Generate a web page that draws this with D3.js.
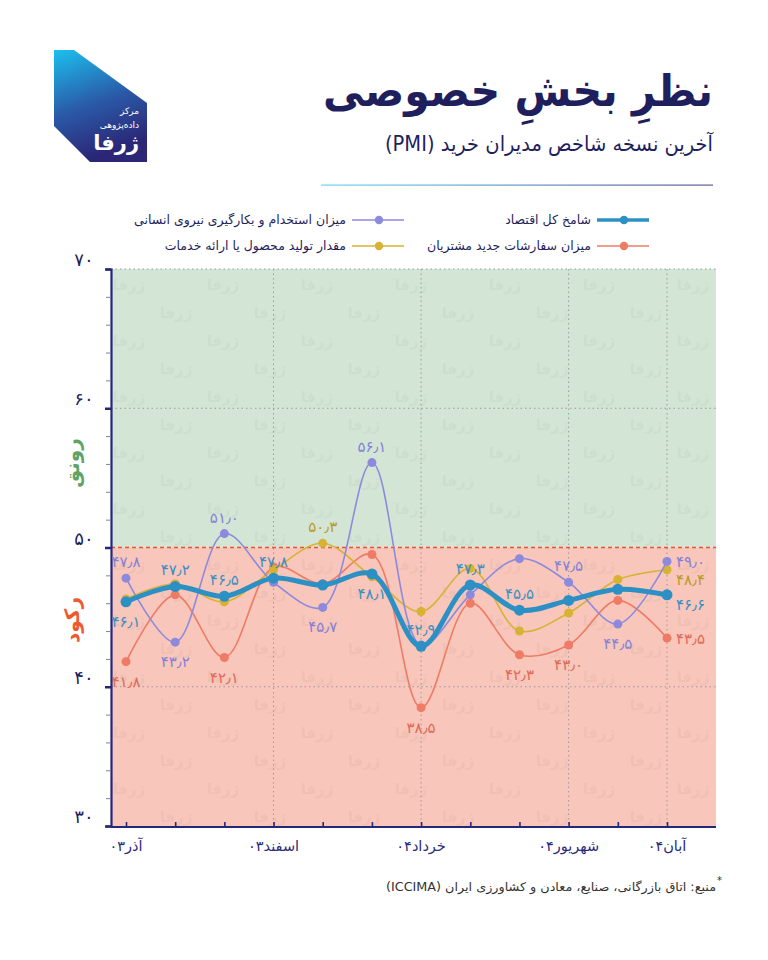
<!DOCTYPE html>
<html>
<head>
<meta charset="utf-8">
<script src="https://cdn.jsdelivr.net/npm/d3@7/dist/d3.min.js"></script>
<style>
  html, body { margin: 0; padding: 0; background: #ffffff; }
  svg { display: block; font-family: "DejaVu Sans", sans-serif; }
</style>
</head>
<body>
<div id="chart"></div>
<script>
// ---------------------------------- DATA
var months = ["آذر۰۳", "دی۰۳", "بهمن۰۳", "اسفند۰۳", "فروردین۰۴", "اردیبهشت۰۴",
              "خرداد۰۴", "تیر۰۴", "مرداد۰۴", "شهریور۰۴", "مهر۰۴", "آبان۰۴"];
var tickMonths = ["آذر۰۳", "اسفند۰۳", "خرداد۰۴", "شهریور۰۴", "آبان۰۴"];

var mainIndex   = [46.1, 47.2, 46.5, 47.8, 47.3, 48.1, 42.9, 47.3, 45.5, 46.2, 47.0, 46.6];
var employment  = [47.8, 43.2, 51.0, 47.5, 45.7, 56.1, 43.0, 46.6, 49.2, 47.5, 44.5, 49.0];
var newOrders   = [41.8, 46.6, 42.1, 48.6, 47.4, 49.5, 38.5, 46.0, 42.3, 43.0, 46.2, 43.5];
var production  = [46.3, 47.4, 46.1, 48.4, 50.3, 47.9, 45.4, 48.5, 44.0, 45.3, 47.7, 48.4];

var yTicks = [30, 40, 50, 60, 70];
var threshold = 50;

// which points carry a value label, and where it sits (a = above, b = below, r = right)
var mainLabels = [[0, "b"], [1, "a"], [2, "a"], [3, "a"], [5, "b"], [6, "a"], [7, "a"], [8, "a"], [11, "rb"]];
var empLabels  = [[0, "a"], [1, "b"], [2, "a"], [4, "b"], [5, "a"], [9, "a"], [10, "b"], [11, "r"]];
var ordLabels  = [[0, "b"], [2, "b"], [6, "b"], [8, "b"], [9, "b"], [11, "r"]];
var prodLabels = [[4, "a"], [11, "rb"]];

// ---------------------------------- SETUP
var width = 768, height = 960;
var navy = "#1f1f5e";

var series = [
  {name: "میزان سفارشات جدید مشتریان", values: newOrders, color: "#ee7b66", text: "#de6a58", w: 1.6, r: 4.5, labels: ordLabels},
  {name: "مقدار تولید محصول یا ارائه خدمات", values: production, color: "#d8b232", text: "#b99a26", w: 1.6, r: 4.5, labels: prodLabels},
  {name: "میزان استخدام و بکارگیری نیروی انسانی", values: employment, color: "#8d8ade", text: "#8481d6", w: 1.6, r: 4.5, labels: empLabels},
  {name: "شامخ کل اقتصاد", values: mainIndex, color: "#2d90c5", text: "#3a8fc3", w: 5, r: 5.5, labels: mainLabels}
];

function fa(s) {
  return String(s).replace(/\d/g, function(d){ return "۰۱۲۳۴۵۶۷۸۹"[+d]; }).replace(".", "٫");
}

var svg = d3.select("#chart").append("svg")
  .attr("width", width)
  .attr("height", height);

var defs = svg.append("defs");

var logoGrad = defs.append("linearGradient").attr("id", "logoGrad")
  .attr("x1", "0").attr("y1", "0").attr("x2", "0.3").attr("y2", "1");
logoGrad.append("stop").attr("offset", "0").attr("stop-color", "#1cc0ee");
logoGrad.append("stop").attr("offset", "0.55").attr("stop-color", "#2a5aa8");
logoGrad.append("stop").attr("offset", "1").attr("stop-color", "#2b2676");

var ruleGrad = defs.append("linearGradient").attr("id", "ruleGrad");
ruleGrad.append("stop").attr("offset", "0").attr("stop-color", "#6fd6f4");
ruleGrad.append("stop").attr("offset", "1").attr("stop-color", "#5b5b97");

// faint watermark pattern
var pat = defs.append("pattern").attr("id", "wm")
  .attr("patternUnits", "userSpaceOnUse")
  .attr("width", 94).attr("height", 56)
  .attr("x", 111).attr("y", 268);
[[18, 22], [65, 50]].forEach(function(p){
  pat.append("text").attr("x", p[0]).attr("y", p[1])
    .attr("text-anchor", "middle")
    .attr("font-size", 15).attr("font-weight", "bold")
    .attr("fill", "#000").attr("fill-opacity", 0.032)
    .text("ژرفا");
});

// ---------------------------------- HEADER
svg.append("polygon")
  .attr("points", "54,50 74,50 147,103 147,162 90,162 54,126")
  .attr("fill", "url(#logoGrad)");
svg.append("text").attr("x", 139).attr("y", 114).attr("text-anchor", "end")
  .attr("font-size", 9).attr("fill", "#fff").text("مرکز");
svg.append("text").attr("x", 139).attr("y", 128).attr("text-anchor", "end")
  .attr("font-size", 9).attr("fill", "#fff").text("داده‌پژوهی");
svg.append("text").attr("x", 139).attr("y", 150).attr("text-anchor", "end")
  .attr("font-size", 21).attr("font-weight", "bold").attr("fill", "#fff").text("ژرفا");

svg.append("text")
  .attr("x", 713).attr("y", 106)
  .attr("direction", "rtl")
  .attr("text-anchor", "start")
  .attr("font-size", 44).attr("font-weight", "bold")
  .attr("fill", navy)
  .attr("textLength", 390).attr("lengthAdjust", "spacingAndGlyphs")
  .text("نظرِ بخشِ خصوصی");

svg.append("text")
  .attr("x", 713).attr("y", 151)
  .attr("direction", "rtl")
  .attr("text-anchor", "start")
  .attr("font-size", 21)
  .attr("fill", navy)
  .attr("textLength", 328).attr("lengthAdjust", "spacingAndGlyphs")
  .text("آخرین نسخه شاخص مدیران خرید (PMI)");

svg.append("rect").attr("x", 321).attr("y", 184.5).attr("width", 392).attr("height", 1.2)
  .attr("fill", "url(#ruleGrad)");

// ---------------------------------- LEGEND
var legendPos = {
  "شامخ کل اقتصاد": [597, 220],
  "میزان سفارشات جدید مشتریان": [597, 246],
  "میزان استخدام و بکارگیری نیروی انسانی": [352, 220],
  "مقدار تولید محصول یا ارائه خدمات": [352, 246]
};
series.forEach(function(s){
  var p = legendPos[s.name];
  var g = svg.append("g").attr("transform", "translate(" + p[0] + "," + p[1] + ")");
  g.append("line").attr("x1", 0).attr("x2", 52).attr("y1", 0).attr("y2", 0)
    .attr("stroke", s.color).attr("stroke-width", s.w > 2 ? 3.5 : 1.6);
  g.append("circle").attr("cx", 27).attr("cy", 0).attr("r", 4.2).attr("fill", s.color);
  g.append("text").attr("x", -6).attr("y", 0).attr("dy", "0.35em")
    .attr("text-anchor", "end").attr("font-size", 12.5).attr("fill", navy)
    .text(s.name);
});

// ---------------------------------- SCALES
var plot = {left: 111, right: 716, top: 268, bottom: 827};

var y = d3.scaleLinear().domain([30, 70]).range([826, 269]);
var x = d3.scalePoint().domain(months).range([126, 667]);

// background zones
svg.append("rect")
  .attr("x", plot.left).attr("width", plot.right - plot.left)
  .attr("y", y(70)).attr("height", y(threshold) - y(70))
  .attr("fill", "#d3e6d5");
svg.append("rect")
  .attr("x", plot.left).attr("width", plot.right - plot.left)
  .attr("y", y(threshold)).attr("height", plot.bottom - y(threshold))
  .attr("fill", "#f8c6ba");
svg.append("rect")
  .attr("x", plot.left).attr("width", plot.right - plot.left)
  .attr("y", y(70)).attr("height", plot.bottom - y(70))
  .attr("fill", "url(#wm)");

// grid
var grid = svg.append("g").attr("class", "grid");
grid.selectAll("line.h")
  .data(yTicks.filter(function(t){ return t !== threshold && t !== 30; }))
  .enter().append("line").attr("class", "h")
  .attr("x1", plot.left).attr("x2", plot.right)
  .attr("y1", function(d){ return y(d); }).attr("y2", function(d){ return y(d); })
  .attr("stroke", "#9a9a9a").attr("stroke-width", 1).attr("stroke-dasharray", "1.5,3");
grid.selectAll("line.v")
  .data(tickMonths.slice(1))
  .enter().append("line").attr("class", "v")
  .attr("x1", function(d){ return x(d); }).attr("x2", function(d){ return x(d); })
  .attr("y1", y(70)).attr("y2", plot.bottom)
  .attr("stroke", "#9a9a9a").attr("stroke-width", 1).attr("stroke-dasharray", "1.5,3");

svg.append("line")
  .attr("x1", plot.left).attr("x2", plot.right)
  .attr("y1", y(threshold)).attr("y2", y(threshold))
  .attr("stroke", "#f0502f").attr("stroke-width", 1.5).attr("stroke-dasharray", "4,3");

// ---------------------------------- AXES
var yAxis = d3.axisLeft(y)
  .tickValues(d3.range(30, 71, 2))
  .tickSize(5)
  .tickFormat("");
var yG = svg.append("g").attr("transform", "translate(" + plot.left + ",0)").call(yAxis);
yG.select(".domain").attr("stroke", "#27277a").attr("stroke-width", 2.2);
yG.selectAll(".tick line").attr("stroke", "#7d7db0").attr("stroke-width", 1);
yG.selectAll(".tick").filter(function(d){ return d % 10 === 0; }).select("line")
  .attr("stroke", "#27277a").attr("stroke-width", 2.5).attr("x2", -6);

svg.selectAll("text.ylab")
  .data(yTicks)
  .enter().append("text").attr("class", "ylab")
  .attr("x", 84).attr("y", function(d){ return y(d) - 3; })
  .attr("text-anchor", "middle")
  .attr("font-size", 18).attr("fill", navy)
  .text(function(d){ return fa(d); });

var xAxis = d3.axisBottom(x).tickSize(-5).tickFormat("");
var xG = svg.append("g").attr("transform", "translate(0," + plot.bottom + ")").call(xAxis);
xG.select(".domain").attr("d", "M" + plot.left + ",0H" + plot.right)
  .attr("stroke", "#27277a").attr("stroke-width", 2.2);
xG.selectAll(".tick line").attr("stroke", "#27277a").attr("stroke-width", 1.6);

svg.selectAll("text.xlab")
  .data(tickMonths)
  .enter().append("text").attr("class", "xlab")
  .attr("x", function(d){ return x(d); }).attr("y", 851)
  .attr("text-anchor", "middle")
  .attr("font-size", 14.5).attr("fill", "#2a2a7a")
  .text(function(d){ return d; });

// zone names
svg.append("text")
  .attr("transform", "translate(79,463) rotate(-90)")
  .attr("text-anchor", "middle")
  .attr("font-size", 20).attr("font-weight", "bold").attr("fill", "#5fa463")
  .text("رونق");
svg.append("text")
  .attr("transform", "translate(79,620) rotate(-90)")
  .attr("text-anchor", "middle")
  .attr("font-size", 20).attr("font-weight", "bold").attr("fill", "#ee5a2e")
  .text("رکود");

// ---------------------------------- LINES AND POINTS
var line = d3.line()
  .x(function(d, i){ return x(months[i]); })
  .y(function(d){ return y(d); })
  .curve(d3.curveCatmullRom.alpha(0.5));

series.forEach(function(s){
  var g = svg.append("g");
  g.append("path")
    .attr("fill", "none")
    .attr("stroke", s.color)
    .attr("stroke-width", s.w)
    .attr("stroke-linejoin", "round")
    .attr("d", line(s.values));
  g.selectAll("circle")
    .data(s.values)
    .enter().append("circle")
    .attr("cx", function(d, i){ return x(months[i]); })
    .attr("cy", function(d){ return y(d); })
    .attr("r", s.r)
    .attr("fill", s.color);
});

// value labels on top
series.forEach(function(s){
  s.labels.forEach(function(l){
    var i = l[0], pos = l[1], v = s.values[i];
    var px = x(months[i]), py = y(v);
    var tx = px, ty = py, anchor = "middle";
    if (pos === "a") ty = py - 11;
    if (pos === "b") ty = py + 25;
    if (pos === "r") { tx = px + 9; ty = py + 6; anchor = "start"; }
    if (pos === "rb") { tx = px + 9; ty = py + 15; anchor = "start"; }
    svg.append("text")
      .attr("x", tx).attr("y", ty)
      .attr("text-anchor", anchor)
      .attr("font-size", 15)
      .attr("fill", s.text)
      .text(fa(v.toFixed(1)));
  });
});

// ---------------------------------- SOURCE
svg.append("text")
  .attr("x", 716).attr("y", 891)
  .attr("direction", "rtl")
  .attr("text-anchor", "start")
  .attr("font-size", 12).attr("fill", "#333")
  .attr("textLength", 330).attr("lengthAdjust", "spacingAndGlyphs")
  .text("منبع: اتاق بازرگانی، صنایع، معادن و کشاورزی ایران (ICCIMA)");
svg.append("text")
  .attr("x", 717).attr("y", 884)
  .attr("font-size", 10).attr("fill", "#333")
  .text("*");
</script>
</body>
</html>
